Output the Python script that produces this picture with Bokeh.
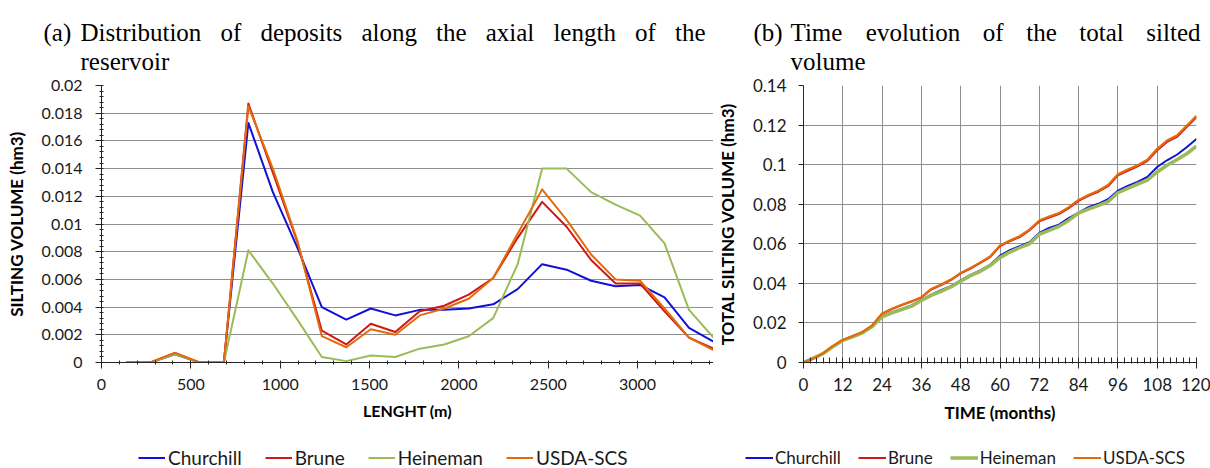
from bokeh.plotting import figure
from bokeh.models import (Range1d, SingleIntervalTicker, NumeralTickFormatter,
                          Legend, LegendItem)
from bokeh.layouts import column, row
from bokeh.embed import file_html
from bokeh.resources import INLINE
from bokeh.core.properties import value

# ---------------- data: (a) distribution along axial length ----------------
length_m = [137, 274, 411, 548, 685, 822, 959, 1096, 1233, 1370, 1507, 1644, 1781,
            1918, 2055, 2192, 2329, 2466, 2603, 2740, 2877, 3014, 3151, 3288, 3425]
dist_churchill = [0, 0, 0.0006, 0, 0, 0.0173, 0.0123, 0.0083, 0.0040, 0.0031, 0.0039, 0.0034,
                  0.0038, 0.0038, 0.0039, 0.0042, 0.0053, 0.0071, 0.0067, 0.0059, 0.0055,
                  0.0056, 0.0047, 0.0025, 0.0015]
dist_brune = [0, 0, 0.0007, 0, 0, 0.0187, 0.0137, 0.0087, 0.0023, 0.0013, 0.0028, 0.0022,
              0.0037, 0.0041, 0.0049, 0.0061, 0.0090, 0.0116, 0.0098, 0.0074, 0.0057,
              0.0057, 0.0037, 0.0018, 0.0010]
dist_heineman = [0, 0, 0.0006, 0, 0, 0.0081, 0.0057, 0.0031, 0.0004, 0.0001, 0.0005, 0.0004,
                 0.0010, 0.0013, 0.0019, 0.0032, 0.0071, 0.0140, 0.0140, 0.0123, 0.0114,
                 0.0106, 0.0086, 0.0038, 0.0018]
dist_usda = [0, 0, 0.0007, 0, 0, 0.0185, 0.0140, 0.0088, 0.0019, 0.0011, 0.0024, 0.0020,
             0.0034, 0.0039, 0.0046, 0.0061, 0.0093, 0.0125, 0.0103, 0.0078, 0.0060,
             0.0059, 0.0039, 0.0018, 0.0009]

# ---------------- data: (b) time evolution of total silted volume ----------------
months = [0, 3, 6, 9, 12, 15, 18, 21, 24, 27, 30, 33, 36, 39, 42, 45, 48, 51, 54, 57, 60,
          63, 66, 69, 72, 75, 78, 81, 84, 87, 90, 93, 96, 99, 102, 105, 108, 111, 114, 117, 120]
total_churchill = [0, 0.0021, 0.0045, 0.0081, 0.0113, 0.0131, 0.0151, 0.0184, 0.0233, 0.0254,
                   0.0271, 0.0289, 0.0317, 0.0343, 0.0365, 0.0386, 0.0415, 0.0443, 0.0466,
                   0.0494, 0.0540, 0.0568, 0.0588, 0.0608, 0.0655, 0.0680, 0.0697, 0.0730,
                   0.0758, 0.0785, 0.0802, 0.0825, 0.0868, 0.0892, 0.0913, 0.0938, 0.0988,
                   0.1022, 0.1050, 0.1088, 0.1130]
total_brune = [0, 0.0020, 0.0046, 0.0083, 0.0113, 0.0133, 0.0153, 0.0187, 0.0246, 0.0270,
               0.0290, 0.0308, 0.0328, 0.0369, 0.0391, 0.0416, 0.0450, 0.0475, 0.0503,
               0.0533, 0.0588, 0.0613, 0.0634, 0.0668, 0.0713, 0.0733, 0.0750, 0.0780,
               0.0817, 0.0842, 0.0863, 0.0891, 0.0946, 0.0969, 0.0991, 0.1019, 0.1073,
               0.1115, 0.1140, 0.1190, 0.1240]
total_heineman = [0, 0.0022, 0.0045, 0.0080, 0.0112, 0.0130, 0.0150, 0.0182, 0.0231, 0.0251,
                  0.0268, 0.0285, 0.0313, 0.0339, 0.0360, 0.0382, 0.0411, 0.0439, 0.0461,
                  0.0490, 0.0530, 0.0558, 0.0580, 0.0600, 0.0647, 0.0668, 0.0688, 0.0718,
                  0.0755, 0.0775, 0.0793, 0.0813, 0.0858, 0.0880, 0.0902, 0.0922, 0.0963,
                  0.0997, 0.1025, 0.1055, 0.1093]
total_usda = [0, 0.0020, 0.0047, 0.0084, 0.0114, 0.0134, 0.0154, 0.0188, 0.0248, 0.0272,
              0.0292, 0.0310, 0.0330, 0.0372, 0.0394, 0.0419, 0.0453, 0.0478, 0.0506,
              0.0536, 0.0592, 0.0617, 0.0638, 0.0672, 0.0718, 0.0738, 0.0755, 0.0785,
              0.0822, 0.0847, 0.0868, 0.0897, 0.0952, 0.0975, 0.0997, 0.1025, 0.1080,
              0.1122, 0.1147, 0.1197, 0.1247]

series_names = ["Churchill", "Brune", "Heineman", "USDA-SCS"]

# ---------------- captions ----------------
caption_a_tag = "(a)"
caption_a_line1 = "Distribution of deposits along the axial length of the"
caption_a_line2 = "reservoir"
caption_b_tag = "(b)"
caption_b_line1 = "Time evolution of the total silted"
caption_b_line2 = "volume"

# ---------------- styling / layout ----------------
COLORS = ["#1111d6", "#d01818", "#9bbb59", "#e36c0a"]
AXIS_COLOR = "#262626"
GRID_COLOR = "#8f8f8f"
SANS = "Lato"
SERIF = "Liberation Serif"
CAP_PX = 25

W, H = 1210, 468
TITLE_H = 74
LEG_H = 22
CH = H - TITLE_H - LEG_H
FRAME_TOP = 85 - TITLE_H
LEFT_W = 713
RIGHT_W = W - LEFT_W

# Times/Liberation Serif advance widths (em/1000) for justified caption layout
_TW = dict(a=444, b=500, c=444, d=500, e=444, f=333, g=500, h=500, i=278, j=278, k=500,
           l=278, m=778, n=500, o=500, p=500, q=500, r=333, s=389, t=278, u=500, v=500,
           w=722, x=500, y=500, z=444, D=722, T=611)
_TW["("] = 333
_TW[")"] = 333


def word_w(wd):
    return sum(_TW.get(ch, 500) for ch in wd) / 1000.0 * CAP_PX


def justify(text, x0, x1):
    ws = text.split()
    total = sum(word_w(w) for w in ws)
    gap = (x1 - x0 - total) / (len(ws) - 1)
    xs, x = [], x0
    for w in ws:
        xs.append(x)
        x += word_w(w) + gap
    return ws, xs


tp = figure(width=W, height=TITLE_H, x_range=Range1d(0, W), y_range=Range1d(TITLE_H, 0),
            x_axis_type=None, y_axis_type=None, toolbar_location=None,
            output_backend="svg", min_border=0, outline_line_color=None)
tp.grid.visible = False
wa, xa = justify(caption_a_line1, 80, 705)
wb, xb = justify(caption_b_line1, 790, 1200)
words = [caption_a_tag] + wa + [caption_a_line2] + [caption_b_tag] + wb + [caption_b_line2]
xs = [43] + xa + [80] + [753] + xb + [790]
ys = [31.5] * (1 + len(wa)) + [61] + [31.5] * (1 + len(wb)) + [61]
tp.text(x=xs, y=ys, text=words, text_font=value(SERIF),
        text_font_size=f"{CAP_PX}px", text_baseline="alphabetic", text_align="left",
        text_color="#000000")


def style_axes(p, xlabel, ylabel, xlabel_size, ylabel_size, tick_size):
    for ax in (p.xaxis[0], p.yaxis[0]):
        ax.axis_line_color = AXIS_COLOR
        ax.major_tick_line_color = AXIS_COLOR
        ax.minor_tick_line_color = AXIS_COLOR
        ax.major_label_text_font = SANS
        ax.major_label_text_font_size = tick_size
        ax.major_label_text_color = "#1a1a1a"
        ax.axis_label_text_font = SANS
        ax.axis_label_text_font_style = "bold"
        ax.axis_label_text_color = "#000000"
    p.xaxis.axis_label = xlabel
    p.yaxis.axis_label = ylabel
    p.xaxis.axis_label_text_font_size = xlabel_size
    p.yaxis.axis_label_text_font_size = ylabel_size


# ---------------- (a) left chart ----------------
pa = figure(width=LEFT_W, height=CH, x_range=Range1d(0, 3425), y_range=Range1d(0, 0.02),
            toolbar_location=None, output_backend="svg",
            min_border_left=101, min_border_right=0, min_border_top=FRAME_TOP,
            min_border_bottom=CH - FRAME_TOP - 277, outline_line_color=None)
pa.xaxis.ticker = SingleIntervalTicker(interval=500, num_minor_ticks=5)
pa.yaxis.ticker = SingleIntervalTicker(interval=0.002, num_minor_ticks=5)
pa.yaxis.formatter = NumeralTickFormatter(format="0.[000]")
pa.xgrid.visible = False
pa.ygrid.grid_line_color = GRID_COLOR
pa.ygrid.grid_line_width = 1
style_axes(pa, "LENGHT (m)", "SILTING VOLUME (hm3)", "16px", "17px", "16px")
pa.xaxis.major_tick_out = 6
pa.xaxis.major_tick_in = 0
pa.xaxis.minor_tick_in = 2
pa.xaxis.minor_tick_out = 2
pa.xaxis.major_label_standoff = 10
pa.xaxis.axis_label_standoff = 8
pa.yaxis.major_tick_out = 6
pa.yaxis.major_tick_in = 0
pa.yaxis.minor_tick_in = 2
pa.yaxis.minor_tick_out = 2
pa.yaxis.major_label_standoff = 13
pa.yaxis.axis_label_standoff = 12

dist_series = [dist_churchill, dist_brune, dist_heineman, dist_usda]
for ys_, c in zip(dist_series, COLORS):
    pa.line(length_m, ys_, line_color=c, line_width=2, line_join="round")

# ---------------- (b) right chart ----------------
pb = figure(width=RIGHT_W, height=CH, x_range=Range1d(0, 120), y_range=Range1d(0, 0.14),
            toolbar_location=None, output_backend="svg",
            min_border_left=85, min_border_right=14, min_border_top=FRAME_TOP,
            min_border_bottom=CH - FRAME_TOP - 278, outline_line_color=None)
pb.xaxis.ticker = SingleIntervalTicker(interval=12, num_minor_ticks=6)
pb.yaxis.ticker = SingleIntervalTicker(interval=0.02)
pb.yaxis.formatter = NumeralTickFormatter(format="0.[00]")
pb.xgrid.grid_line_color = GRID_COLOR
pb.ygrid.grid_line_color = GRID_COLOR
style_axes(pb, "TIME (months)", "TOTAL SILTING VOLUME (hm3)", "17px", "17px", "17px")
pb.xaxis.major_tick_out = 6
pb.xaxis.major_tick_in = 0
pb.xaxis.minor_tick_in = 5
pb.xaxis.minor_tick_out = 1
pb.xaxis.major_label_standoff = 9
pb.xaxis.axis_label_standoff = 8
pb.yaxis.major_tick_out = 5
pb.yaxis.major_tick_in = 0
pb.yaxis.minor_tick_line_color = None
pb.yaxis.major_label_standoff = 12
pb.yaxis.axis_label_standoff = 12

total_series = [total_churchill, total_brune, total_heineman, total_usda]
widths_b = [2, 2, 3.5, 2.2]
for ys_, c, w in zip(total_series, COLORS, widths_b):
    pb.line(months, ys_, line_color=c, line_width=w, line_join="round")


# ---------------- legend strips (below each chart) ----------------
# The strip holds the same series, drawn outside its (empty) view window, so that
# only the legend entries are visible.
def legend_strip(width, left_pad, xdata, series, line_widths, font_size, spacing,
                 glyph_w, standoff):
    s = figure(width=width, height=LEG_H, x_range=Range1d(-3, -2), y_range=Range1d(-3, -2),
               x_axis_type=None, y_axis_type=None, toolbar_location=None,
               output_backend="svg", min_border_left=left_pad, min_border_right=0,
               min_border_top=0, min_border_bottom=0, outline_line_color=None)
    s.grid.visible = False
    items = []
    for n, ysr, c, lw in zip(series_names, series, COLORS, line_widths):
        r = s.line(xdata, ysr, line_color=c, line_width=lw)
        items.append(LegendItem(label=n, renderers=[r]))
    leg = Legend(items=items, orientation="horizontal", location="left", margin=0,
                 padding=0, spacing=spacing, label_standoff=standoff, glyph_width=glyph_w,
                 glyph_height=18, label_height=18, border_line_color=None,
                 background_fill_alpha=0, label_text_font=SANS,
                 label_text_font_size=font_size, label_text_color="#1a1a1a")
    s.add_layout(leg)
    return s


la = legend_strip(LEFT_W, 138, length_m, dist_series, [2, 2, 2, 2], "19px", 23, 27, 3)
lb = legend_strip(RIGHT_W, 32, months, total_series, [2, 2, 3.5, 2.2], "17px", 17, 28, 2)

layout = column(tp, row(pa, pb, spacing=0), row(la, lb, spacing=0), spacing=0)
open("out.html", "w").write(file_html(layout, INLINE))
